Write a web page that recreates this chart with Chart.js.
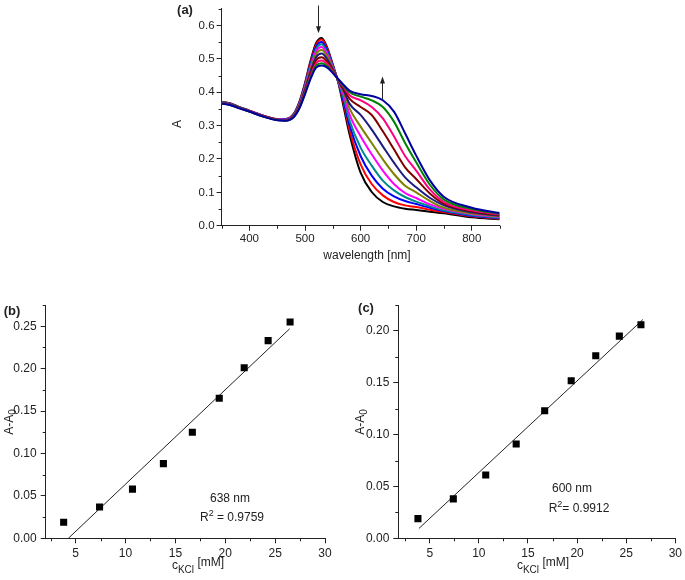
<!DOCTYPE html>
<html lang="en">
<head>
<title>KCl titration spectra</title>
<script src="https://cdn.jsdelivr.net/npm/chart.js"></script>
<style>
  body { margin: 0; background: #fff; }
  canvas { position: absolute; left: 0; top: 0; }
</style>
</head>
<body>
<canvas id="chartA" width="685" height="580"></canvas>
<canvas id="chartB" width="685" height="580"></canvas>
<canvas id="chartC" width="685" height="580"></canvas>

<script type="text/javascript">

// ---- panel (a): absorption spectra ----
const wavelengths = [350, 365, 380, 400, 425, 450, 465, 480, 490, 500, 510, 520, 530, 540, 550, 560, 570, 580, 600, 620, 640, 660, 680, 700, 725, 750, 800, 850];

const specBlack   = [.372,.367,.357,.345,.330,.320,.320,.336,.372,.428,.495,.548,.563,.534,.483,.428,.352,.275,.159,.101,.071,.058,.051,.047,.042,.037,.025,.019];
const specRed     = [.371,.366,.357,.345,.330,.320,.319,.335,.370,.425,.490,.543,.558,.530,.481,.430,.362,.288,.184,.125,.091,.071,.061,.056,.048,.041,.028,.021];
const specBlue    = [.370,.366,.356,.344,.330,.319,.319,.334,.368,.422,.485,.537,.551,.525,.479,.431,.370,.302,.209,.150,.111,.088,.074,.065,.054,.044,.030,.022];
const specTeal    = [.370,.365,.356,.344,.329,.319,.318,.333,.366,.419,.480,.530,.544,.520,.477,.432,.380,.316,.234,.180,.135,.106,.086,.072,.058,.046,.032,.024];
const specMagenta = [.369,.365,.355,.344,.329,.319,.318,.332,.364,.416,.475,.523,.536,.514,.475,.433,.390,.334,.268,.214,.165,.125,.098,.083,.064,.051,.035,.026];
const specOlive   = [.369,.364,.355,.343,.329,.318,.317,.331,.362,.412,.469,.515,.527,.507,.472,.434,.398,.352,.297,.248,.199,.155,.120,.100,.074,.054,.037,.028];
const specNavy    = [.368,.364,.355,.343,.328,.318,.317,.330,.360,.408,.462,.505,.516,.499,.469,.435,.404,.366,.332,.288,.238,.189,.145,.115,.083,.061,.040,.030];
const specMaroon  = [.368,.363,.354,.343,.328,.318,.316,.329,.358,.404,.455,.496,.505,.491,.466,.436,.410,.381,.356,.332,.283,.229,.175,.140,.096,.066,.043,.032];
const specPink    = [.367,.363,.354,.342,.328,.317,.316,.328,.356,.400,.449,.487,.495,.484,.463,.437,.415,.391,.376,.356,.322,.268,.209,.165,.108,.071,.046,.034];
const specGreen   = [.367,.362,.354,.342,.327,.317,.315,.327,.354,.397,.444,.480,.487,.478,.460,.438,.418,.400,.387,.376,.356,.312,.248,.190,.122,.078,.050,.036];
const specRoyal   = [.366,.362,.353,.342,.327,.316,.315,.326,.352,.394,.440,.474,.480,.474,.458,.439,.421,.405,.394,.389,.376,.342,.277,.210,.135,.086,.054,.038];

const spectra = [specBlack, specRed, specBlue, specTeal, specMagenta, specOlive, specNavy, specMaroon, specPink, specGreen, specRoyal];
const spectraColors = ['#000000', '#ff0000', '#0000ff', '#008b8b', '#ff00ff', '#808000', '#1c1c80', '#800000', '#ff0080', '#008000', '#0000a0'];

const waveTicks = [400, 500, 600, 700, 800];
const absTicks = [0, 0.1, 0.2, 0.3, 0.4, 0.5, 0.6];

// ---- panels (b), (c): A-A0 vs KCl ----
const kclConc  = [3.8, 7.4, 10.7, 13.8, 16.7, 19.4, 21.9, 24.3, 26.5];
const delta638 = [0.019, 0.037, 0.058, 0.088, 0.125, 0.165, 0.201, 0.233, 0.255];
const delta600 = [0.019, 0.038, 0.061, 0.091, 0.123, 0.152, 0.176, 0.195, 0.206];
const fit638X = [4.27, 26.46];
const fit638Y = [0, 0.247];
const fit600X = [3.9, 26.7];
const fit600Y = [0.0095, 0.211];

const kclTicks = [5, 10, 15, 20, 25, 30];
const delta638Ticks = [0, 0.05, 0.10, 0.15, 0.20, 0.25];
const delta600Ticks = [0, 0.05, 0.10, 0.15, 0.20];

const FONT = 'Liberation Sans, Arial, sans-serif';
const INK = '#222';

const minorTicks = {
    id: 'minorTicks',
    afterDraw(chart, args, opts) {
        const { ctx, chartArea } = chart;
        ctx.save();
        ctx.strokeStyle = INK;
        ctx.lineWidth = 1;
        for (const [id, step] of Object.entries(opts.steps || {})) {
            const scale = chart.scales[id];
            const majors = scale.ticks.map(t => t.value);
            for (let k = Math.ceil(scale.min / step - 1e-9); k * step <= scale.max + 1e-9; k++) {
                const v = k * step;
                if (majors.some(m => Math.abs(m - v) < step / 100)) continue;
                const p = Math.round(scale.getPixelForValue(v)) + 0.5;
                ctx.beginPath();
                if (scale.isHorizontal()) {
                    ctx.moveTo(p, chartArea.bottom);
                    ctx.lineTo(p, chartArea.bottom + 3);
                } else {
                    ctx.moveTo(chartArea.left - 3, p);
                    ctx.lineTo(chartArea.left, p);
                }
                ctx.stroke();
            }
        }
        ctx.restore();
    }
};

const richText = {
    id: 'richText',
    afterDraw(chart, args, opts) {
        const ctx = chart.ctx;
        const fontOf = r => (r.bold ? 'bold ' : '') + (r.size || 12) + 'px ' + FONT;
        for (const item of opts.items || []) {
            ctx.save();
            ctx.translate(item.x, item.y);
            if (item.rotate) ctx.rotate(item.rotate);
            let width = 0;
            for (const r of item.runs) {
                ctx.font = fontOf(r);
                width += ctx.measureText(r.t).width;
            }
            let x = -width / 2;
            ctx.fillStyle = INK;
            ctx.textBaseline = 'alphabetic';
            for (const r of item.runs) {
                ctx.font = fontOf(r);
                ctx.fillText(r.t, x, r.dy || 0);
                x += ctx.measureText(r.t).width;
            }
            ctx.restore();
        }
    }
};

const arrows = {
    id: 'arrows',
    afterDraw(chart, args, opts) {
        const { ctx, scales: { x, y } } = chart;
        ctx.save();
        ctx.strokeStyle = INK;
        ctx.fillStyle = INK;
        ctx.lineWidth = 1;
        for (const a of opts.list || []) {
            const px = Math.round(x.getPixelForValue(a.x)) + 0.5;
            const y0 = y.getPixelForValue(a.from);
            const y1 = y.getPixelForValue(a.to);
            const dir = y1 > y0 ? 1 : -1;
            ctx.beginPath();
            ctx.moveTo(px, y0);
            ctx.lineTo(px, y1 - dir * 5);
            ctx.stroke();
            ctx.beginPath();
            ctx.moveTo(px, y1);
            ctx.lineTo(px - 2.5, y1 - dir * 7);
            ctx.lineTo(px + 2.5, y1 - dir * 7);
            ctx.closePath();
            ctx.fill();
        }
        ctx.restore();
    }
};

function axis(min, max, values, digits, size, pad, fitSize, horizontal) {
    return {
        type: 'linear',
        min: min,
        max: max,
        afterBuildTicks: s => { s.ticks = values.map(v => ({ value: v })); },
        afterFit: s => { if (horizontal) s.height = fitSize; else s.width = fitSize; },
        grid: { display: true, drawOnChartArea: false, drawTicks: true, tickLength: 5, color: INK, lineWidth: 1 },
        border: { display: true, color: INK, width: 1 },
        ticks: {
            color: INK,
            font: { family: FONT, size: size },
            padding: pad,
            maxRotation: 0,
            autoSkip: false,
            callback: v => Number(v).toFixed(digits)
        }
    };
}

const common = {
    responsive: false,
    animation: false,
    events: []
};

// panel (a)
new Chart(document.getElementById('chartA'), {
    type: 'line',
    data: {
        datasets: spectra.map((s, i) => ({
            data: wavelengths.map((w, j) => ({ x: w, y: s[j] })),
            borderColor: spectraColors[i],
            borderWidth: 2,
            pointRadius: 0,
            cubicInterpolationMode: 'monotone',
            fill: false,
            order: spectra.length - i
        }))
    },
    options: {
        ...common,
        layout: { padding: { left: 0, top: 5.4, right: 185.4, bottom: 0 } },
        scales: {
            x: axis(350, 850, waveTicks, 0, 11.5, 1, 354.3, true),
            y: axis(0, 0.65, absTicks, 1, 11.5, 2, 221.6, false)
        },
        plugins: {
            legend: { display: false },
            tooltip: { enabled: false },
            minorTicks: { steps: { x: 50, y: 0.05 } },
            arrows: { list: [ { x: 524, from: 0.66, to: 0.577 }, { x: 638, from: 0.38, to: 0.447 } ] },
            richText: {
                items: [
                    { x: 185, y: 14, runs: [{ t: '(a)', bold: true, size: 13 }] },
                    { x: 181, y: 124, rotate: -Math.PI / 2, runs: [{ t: 'A' }] },
                    { x: 367, y: 259, runs: [{ t: 'wavelength [nm]' }] }
                ]
            }
        }
    },
    plugins: [minorTicks, arrows, richText]
});

function kclChart(id, yValues, fitX, fitY, xMin, yMax, yTicks, leftWidth, rightPad, texts) {
    return new Chart(document.getElementById(id), {
        type: 'scatter',
        data: {
            datasets: [{
                data: kclConc.map((c, i) => ({ x: c, y: yValues[i] })),
                pointStyle: 'rect',
                pointRadius: 5,
                backgroundColor: '#000',
                borderColor: '#000',
                borderWidth: 0
            }, {
                type: 'line',
                data: fitX.map((c, i) => ({ x: c, y: fitY[i] })),
                borderColor: INK,
                borderWidth: 1,
                pointRadius: 0,
                fill: false
            }]
        },
        options: {
            ...common,
            layout: { padding: { left: 0, top: 305, right: rightPad, bottom: 0 } },
            scales: {
                x: axis(xMin, 30, kclTicks, 0, 12, 3, 41.7, true),
                y: axis(0, yMax, yTicks, 2, 12, 4, leftWidth, false)
            },
            plugins: {
                legend: { display: false },
                tooltip: { enabled: false },
                minorTicks: { steps: { x: 2.5, y: 0.025 } },
                richText: { items: texts }
            }
        },
        plugins: [minorTicks, richText]
    });
}

// panel (b)
kclChart('chartB', delta638, fit638X, fit638Y, 2, 0.275, delta638Ticks, 45.7, 360, [
    { x: 12, y: 315, runs: [{ t: '(b)', bold: true, size: 13 }] },
    { x: 13, y: 422, rotate: -Math.PI / 2, runs: [{ t: 'A-A' }, { t: '0', size: 10, dy: 3 }] },
    { x: 198, y: 569, runs: [{ t: 'c' }, { t: 'KCl', size: 10, dy: 4 }, { t: ' [mM]', dy: -3 }] },
    { x: 230, y: 502, runs: [{ t: '638 nm' }] },
    { x: 232, y: 521, runs: [{ t: 'R' }, { t: '2', size: 9, dy: -5 }, { t: ' = 0.9759' }] }
]);

// panel (c)
kclChart('chartC', delta600, fit600X, fit600Y, 1.8, 0.225, delta600Ticks, 398.3, 8.3, [
    { x: 366, y: 312, runs: [{ t: '(c)', bold: true, size: 13 }] },
    { x: 364, y: 422, rotate: -Math.PI / 2, runs: [{ t: 'A-A' }, { t: '0', size: 10, dy: 3 }] },
    { x: 543, y: 569, runs: [{ t: 'c' }, { t: 'KCl', size: 10, dy: 4 }, { t: ' [mM]', dy: -3 }] },
    { x: 572, y: 492, runs: [{ t: '600 nm' }] },
    { x: 579, y: 512, runs: [{ t: 'R' }, { t: '2', size: 9, dy: -5 }, { t: '= 0.9912' }] }
]);
</script>
</body>
</html>
